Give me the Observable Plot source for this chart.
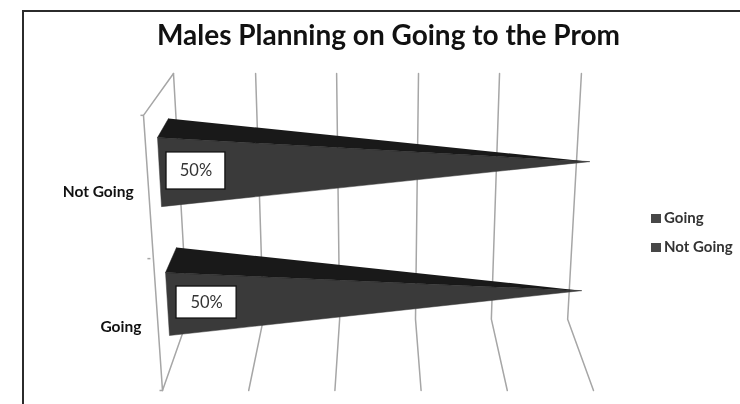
<!DOCTYPE html>
<html>
<head>
<meta charset="utf-8">
<script src="https://cdn.jsdelivr.net/npm/d3@7"></script>
<script src="https://cdn.jsdelivr.net/npm/@observablehq/plot@0.6"></script>
<style>
html,body{margin:0;padding:0;background:#fff;overflow:hidden}
#page{position:relative;width:740px;height:404px;overflow:hidden;font-family:Lato,sans-serif;filter:blur(0.45px)}
#frame{position:absolute;left:22px;top:10px;width:730px;height:410px;border:2.5px solid #2b2b2b;box-sizing:border-box}
#title{position:absolute;left:0;top:0;width:740px;height:52px;padding-left:37px;box-sizing:border-box;line-height:69px;text-align:center;font-size:28px;font-weight:700;color:#111}
#chart{position:absolute;left:0;top:52px}
#legend{position:absolute;left:651px;top:203px;font-size:15px;font-weight:700;color:#333;line-height:29px;white-space:nowrap}
#legend i{display:inline-block;width:10px;height:9px;background:#474747;margin-right:3px}
</style>
</head>
<body>
<div id="page">
  <div id="frame"></div>
  <div id="title">Males Planning on Going to the Prom</div>
  <div id="chart"></div>
  <div id="legend"></div>
</div>
<script>
// Percent axis, read at the three edges of the pseudo-3D box
const floorX = [0, 20, 40, 60, 80, 100];
const kinkX = [5.8, 23.4, 41.1, 58.7, 76.3, 94.0];
const topX = [2.55, 21.6, 40.4, 59.4, 78.2, 97.2];
const kinkElev = 22.5, topElev = 100, floorElev = 0;

// Side wall outline and its tick marks
const wallX = [2.55, -4.41, 0];
const wallE = [100, 86.8, 0];
const wallTickX = [-4.41, -2.8, 0];
const wallTickE = [86.8, 41.6, 0];
const wallTickLength = 0.7;

// Categories and values
const categories = ["Not Going", "Going"];
const shares = [50, 50];
const legendItems = ["Going", "Not Going"];

// Cone outlines, per category: back of top, front top, front bottom, tip
const coneX = [[1.39, -1.16, -0.23, 99.07], [3.25, 0.70, 1.62, 97.2]];
const coneE = [[85.8, 79.8, 58.0, 72.2], [45.1, 37.2, 17.35, 31.5]];

// Label boxes and category label anchors
const boxX = [[0.93, 14.6], [3.25, 17.2]];
const boxE = [[75.1, 63.4], [32.8, 22.7]];
const catLabelX = [-6.7, -4.9];
const catLabelE = [62.5, 19.9];

const gridLines = floorX.flatMap((f, i) => [
  {g: i, x: topX[i], e: topElev},
  {g: i, x: kinkX[i], e: kinkElev},
  {g: i, x: f, e: floorElev}
]);
const wall = wallX.map((x, i) => ({x, e: wallE[i]}));
const wallTicks = wallTickX.map((x, i) => ({x1: x - wallTickLength, x2: x, y: wallTickE[i]}));
const tops = categories.map((c, i) => [0, 1, 3].map(k => ({x: coneX[i][k], e: coneE[i][k]})));
const sides = categories.map((c, i) => [1, 2, 3].map(k => ({x: coneX[i][k], e: coneE[i][k]})));
const boxes = categories.map((c, i) => ({
  x1: boxX[i][0], x2: boxX[i][1], y1: boxE[i][0], y2: boxE[i][1],
  label: shares[i] + "%", cx: (boxX[i][0] + boxX[i][1]) / 2, cy: (boxE[i][0] + boxE[i][1]) / 2
}));
const cats = categories.map((c, i) => ({c, x: catLabelX[i], e: catLabelE[i]}));

const coneMarks = [];
categories.forEach((c, i) => {
  coneMarks.push(Plot.line(sides[i], {x: "x", y: "e", fill: "#3a3a3a", stroke: "#3a3a3a", strokeWidth: 0.5}));
  coneMarks.push(Plot.line(tops[i], {x: "x", y: "e", fill: "#191919", stroke: "#191919", strokeWidth: 0.5}));
});

const plot = Plot.plot({
  width: 740, height: 352,
  marginLeft: 162, marginRight: 147, marginTop: 21, marginBottom: 14,
  x: {domain: [0, 100], axis: null},
  y: {domain: [0, 100], axis: null},
  style: {background: "transparent", fontFamily: "Lato, sans-serif"},
  marks: [
    Plot.line(gridLines, {x: "x", y: "e", z: "g", stroke: "#a6a6a6", strokeWidth: 1.5}),
    Plot.line(wall, {x: "x", y: "e", stroke: "#a6a6a6", strokeWidth: 1.5}),
    Plot.link(wallTicks, {x1: "x1", x2: "x2", y1: "y", y2: "y", stroke: "#a6a6a6", strokeWidth: 1.5}),
    ...coneMarks,
    Plot.rect(boxes, {x1: "x1", x2: "x2", y1: "y1", y2: "y2", fill: "#fff", stroke: "#111", strokeWidth: 1.3}),
    Plot.text(boxes, {x: "cx", y: "cy", text: "label", fontSize: 16.5, fill: "#333"}),
    Plot.text(cats, {x: "x", y: "e", text: "c", textAnchor: "end", fontSize: 15.5, fontWeight: 700, fill: "#111"})
  ]
});
document.getElementById("chart").appendChild(plot);
document.getElementById("legend").innerHTML = legendItems.map(t => `<div><i></i>${t}</div>`).join("");
</script>
</body>
</html>
